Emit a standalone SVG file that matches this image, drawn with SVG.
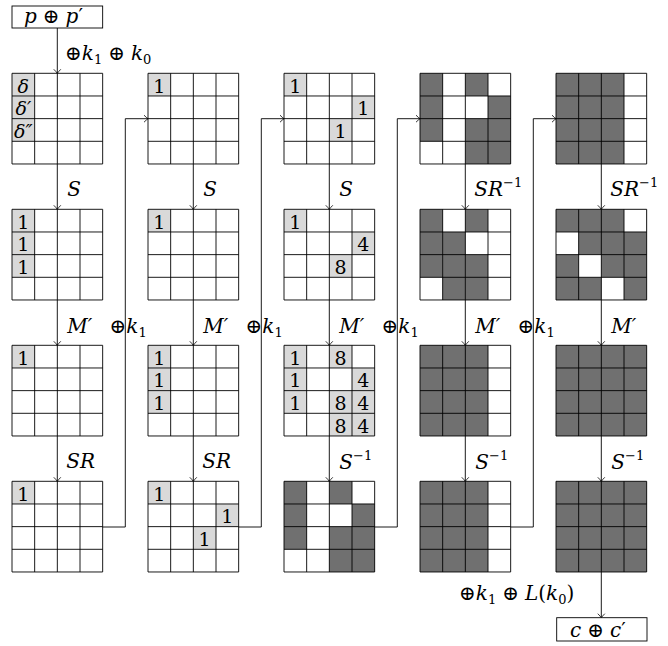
<svg xmlns="http://www.w3.org/2000/svg" width="668" height="646" viewBox="0 0 668 646">
<style>
text{font-family:"DejaVu Serif",serif;font-size:20px;fill:#000}
.i{font-style:italic}
.sb{font-size:13px}
.c{text-anchor:middle}
.n{font-size:19px}
.lg{fill:#d9d9d9}
.dk{fill:#707070}
.gl{fill:none;stroke:#000;stroke-width:0.9}
.cn{fill:none;stroke:#000;stroke-width:0.9}
.bx{fill:#fff;stroke:#000;stroke-width:0.9}
</style>
<defs>
<path id="grid" class="gl" d="M0,0H90.67V90.67H0Z M22.67,0V90.67 M45.33,0V90.67 M68,0V90.67 M0,22.67H90.67 M0,45.33H90.67 M0,68H90.67"/>
<marker id="ar" viewBox="-5 -5 6 10" refX="0" refY="0" markerWidth="6" markerHeight="10" markerUnits="userSpaceOnUse" orient="auto">
<path d="M-4,-3.5 Q-1.5,-1 0,0 Q-1.5,1 -4,3.5" fill="none" stroke="#000" stroke-width="0.8"/>
</marker>
</defs>
<rect width="668" height="646" fill="#fff"/>

<g id="connectors">
<path class="cn" d="M57.3,28V73.3" marker-end="url(#ar)"/>
<path class="cn" d="M57.3,164V209.3" marker-end="url(#ar)"/>
<path class="cn" d="M57.3,300V345.3" marker-end="url(#ar)"/>
<path class="cn" d="M57.3,436V481.3" marker-end="url(#ar)"/>
<path class="cn" d="M193.3,164V209.3" marker-end="url(#ar)"/>
<path class="cn" d="M193.3,300V345.3" marker-end="url(#ar)"/>
<path class="cn" d="M193.3,436V481.3" marker-end="url(#ar)"/>
<path class="cn" d="M329.3,164V209.3" marker-end="url(#ar)"/>
<path class="cn" d="M329.3,300V345.3" marker-end="url(#ar)"/>
<path class="cn" d="M329.3,436V481.3" marker-end="url(#ar)"/>
<path class="cn" d="M465.3,164V209.3" marker-end="url(#ar)"/>
<path class="cn" d="M465.3,300V345.3" marker-end="url(#ar)"/>
<path class="cn" d="M465.3,436V481.3" marker-end="url(#ar)"/>
<path class="cn" d="M601.3,164V209.3" marker-end="url(#ar)"/>
<path class="cn" d="M601.3,300V345.3" marker-end="url(#ar)"/>
<path class="cn" d="M601.3,436V481.3" marker-end="url(#ar)"/>
<path class="cn" d="M601.3,572V617.7" marker-end="url(#ar)"/>
<path class="cn" d="M102.67,527H125.3V118.7H148" marker-end="url(#ar)"/>
<path class="cn" d="M238.67,527H261.3V118.7H284" marker-end="url(#ar)"/>
<path class="cn" d="M374.67,527H397.3V118.7H420" marker-end="url(#ar)"/>
<path class="cn" d="M510.67,527H533.3V118.7H556" marker-end="url(#ar)"/>
</g>

<g id="labels">
<text x="65" y="60">⊕<tspan class="i">k</tspan><tspan class="sb" dy="4">1</tspan><tspan dy="-4" dx="6">⊕</tspan><tspan class="i" dx="6">k</tspan><tspan class="sb" dy="4">0</tspan></text>
<text class="i" x="67.3" y="196">S</text>
<text class="i" x="203.3" y="196">S</text>
<text class="i" x="339.3" y="196">S</text>
<text class="i" x="474.3" y="196">SR<tspan class="sb" font-style="normal" dy="-9">−1</tspan></text>
<text class="i" x="610.3" y="196">SR<tspan class="sb" font-style="normal" dy="-9">−1</tspan></text>
<text class="i" x="67.3" y="333">M′</text>
<text class="i" x="203.3" y="333">M′</text>
<text class="i" x="339.3" y="333">M′</text>
<text class="i" x="475.3" y="333">M′</text>
<text class="i" x="611.3" y="333">M′</text>
<text x="109.5" y="333">⊕<tspan class="i">k</tspan><tspan class="sb" dy="4">1</tspan></text>
<text x="245.5" y="333">⊕<tspan class="i">k</tspan><tspan class="sb" dy="4">1</tspan></text>
<text x="381.5" y="333">⊕<tspan class="i">k</tspan><tspan class="sb" dy="4">1</tspan></text>
<text x="517.5" y="333">⊕<tspan class="i">k</tspan><tspan class="sb" dy="4">1</tspan></text>
<text class="i" x="66.3" y="468">SR</text>
<text class="i" x="202.3" y="468">SR</text>
<text class="i" x="339.3" y="469">S<tspan class="sb" font-style="normal" dy="-9">−1</tspan></text>
<text class="i" x="475.3" y="469">S<tspan class="sb" font-style="normal" dy="-9">−1</tspan></text>
<text class="i" x="611.3" y="469">S<tspan class="sb" font-style="normal" dy="-9">−1</tspan></text>
<text x="459" y="600">⊕<tspan class="i">k</tspan><tspan class="sb" dy="4">1</tspan><tspan dy="-4" dx="6">⊕</tspan><tspan class="i" dx="6">L</tspan>(<tspan class="i">k</tspan><tspan class="sb" dy="4">0</tspan><tspan dy="-4">)</tspan></text>
</g>

<g id="in-box">
<rect class="bx" x="12" y="6" width="90.67" height="22"/>
<text x="24" y="23"><tspan class="i">p</tspan><tspan dx="6">⊕</tspan><tspan class="i" dx="6">p</tspan>′</text>
</g>
<g id="out-box">
<rect class="bx" x="556.7" y="617.7" width="90.3" height="23.3"/>
<text x="570" y="636.5"><tspan class="i">c</tspan><tspan dx="6">⊕</tspan><tspan class="i" dx="6">c</tspan>′</text>
</g>

<g id="n11" transform="translate(12,73.3)">
<rect class="lg" x="0" y="0" width="22.67" height="68"/>
<use href="#grid"/>
<text class="c i n" x="11.33" y="19.5">δ</text>
<text class="c i n" x="11.33" y="42.2">δ′</text>
<text class="c i n" x="11.33" y="64.8">δ″</text>
</g>
<g id="n12" transform="translate(12,209.3)">
<rect class="lg" x="0" y="0" width="22.67" height="68"/>
<use href="#grid"/>
<text class="c n" x="11.33" y="19.5">1</text>
<text class="c n" x="11.33" y="42.2">1</text>
<text class="c n" x="11.33" y="64.8">1</text>
</g>
<g id="n13" transform="translate(12,345.3)">
<rect class="lg" x="0" y="0" width="22.67" height="22.67"/>
<use href="#grid"/>
<text class="c n" x="11.33" y="19.5">1</text>
</g>
<g id="n14" transform="translate(12,481.3)">
<rect class="lg" x="0" y="0" width="22.67" height="22.67"/>
<use href="#grid"/>
<text class="c n" x="11.33" y="19.5">1</text>
</g>

<g id="n21" transform="translate(148,73.3)">
<rect class="lg" x="0" y="0" width="22.67" height="22.67"/>
<use href="#grid"/>
<text class="c n" x="11.33" y="19.5">1</text>
</g>
<g id="n22" transform="translate(148,209.3)">
<rect class="lg" x="0" y="0" width="22.67" height="22.67"/>
<use href="#grid"/>
<text class="c n" x="11.33" y="19.5">1</text>
</g>
<g id="n23" transform="translate(148,345.3)">
<rect class="lg" x="0" y="0" width="22.67" height="68"/>
<use href="#grid"/>
<text class="c n" x="11.33" y="19.5">1</text>
<text class="c n" x="11.33" y="42.2">1</text>
<text class="c n" x="11.33" y="64.8">1</text>
</g>
<g id="n24" transform="translate(148,481.3)">
<rect class="lg" x="0" y="0" width="22.67" height="22.67"/>
<rect class="lg" x="68" y="22.67" width="22.67" height="22.67"/>
<rect class="lg" x="45.33" y="45.33" width="22.67" height="22.67"/>
<use href="#grid"/>
<text class="c n" x="11.33" y="19.5">1</text>
<text class="c n" x="79.33" y="42.2">1</text>
<text class="c n" x="56.67" y="64.8">1</text>
</g>

<g id="n31" transform="translate(284,73.3)">
<rect class="lg" x="0" y="0" width="22.67" height="22.67"/>
<rect class="lg" x="68" y="22.67" width="22.67" height="22.67"/>
<rect class="lg" x="45.33" y="45.33" width="22.67" height="22.67"/>
<use href="#grid"/>
<text class="c n" x="11.33" y="19.5">1</text>
<text class="c n" x="79.33" y="42.2">1</text>
<text class="c n" x="56.67" y="64.8">1</text>
</g>
<g id="n32" transform="translate(284,209.3)">
<rect class="lg" x="0" y="0" width="22.67" height="22.67"/>
<rect class="lg" x="68" y="22.67" width="22.67" height="22.67"/>
<rect class="lg" x="45.33" y="45.33" width="22.67" height="22.67"/>
<use href="#grid"/>
<text class="c n" x="11.33" y="19.5">1</text>
<text class="c n" x="79.33" y="42.2">4</text>
<text class="c n" x="56.67" y="64.8">8</text>
</g>
<g id="n33" transform="translate(284,345.3)">
<rect class="lg" x="0" y="0" width="22.67" height="68"/>
<rect class="lg" x="45.33" y="0" width="22.67" height="22.67"/>
<rect class="lg" x="68" y="22.67" width="22.67" height="68"/>
<rect class="lg" x="45.33" y="45.33" width="22.67" height="45.33"/>
<use href="#grid"/>
<text class="c n" x="11.33" y="19.5">1</text>
<text class="c n" x="56.67" y="19.5">8</text>
<text class="c n" x="11.33" y="42.2">1</text>
<text class="c n" x="79.33" y="42.2">4</text>
<text class="c n" x="11.33" y="64.8">1</text>
<text class="c n" x="56.67" y="64.8">8</text>
<text class="c n" x="79.33" y="64.8">4</text>
<text class="c n" x="56.67" y="87.5">8</text>
<text class="c n" x="79.33" y="87.5">4</text>
</g>
<g id="n34" transform="translate(284,481.3)">
<rect class="dk" x="0" y="0" width="22.67" height="68"/>
<rect class="dk" x="45.33" y="0" width="22.67" height="22.67"/>
<rect class="dk" x="68" y="22.67" width="22.67" height="68"/>
<rect class="dk" x="45.33" y="45.33" width="22.67" height="45.33"/>
<use href="#grid"/>
</g>

<g id="n41" transform="translate(420,73.3)">
<rect class="dk" x="0" y="0" width="22.67" height="68"/>
<rect class="dk" x="45.33" y="0" width="22.67" height="22.67"/>
<rect class="dk" x="68" y="22.67" width="22.67" height="68"/>
<rect class="dk" x="45.33" y="45.33" width="22.67" height="45.33"/>
<use href="#grid"/>
</g>
<g id="n42" transform="translate(420,209.3)">
<rect class="dk" x="0" y="0" width="22.67" height="68"/>
<rect class="dk" x="45.33" y="0" width="22.67" height="22.67"/>
<rect class="dk" x="22.67" y="22.67" width="22.67" height="68"/>
<rect class="dk" x="45.33" y="45.33" width="22.67" height="45.33"/>
<use href="#grid"/>
</g>
<g id="n43" transform="translate(420,345.3)">
<rect class="dk" x="0" y="0" width="68" height="90.67"/>
<use href="#grid"/>
</g>
<g id="n44" transform="translate(420,481.3)">
<rect class="dk" x="0" y="0" width="68" height="90.67"/>
<use href="#grid"/>
</g>

<g id="n51" transform="translate(556,73.3)">
<rect class="dk" x="0" y="0" width="68" height="90.67"/>
<use href="#grid"/>
</g>
<g id="n52" transform="translate(556,209.3)">
<rect class="dk" x="0" y="0" width="90.67" height="90.67"/>
<rect fill="#fff" x="68" y="0" width="22.67" height="22.67"/>
<rect fill="#fff" x="0" y="22.67" width="22.67" height="22.67"/>
<rect fill="#fff" x="22.67" y="45.33" width="22.67" height="22.67"/>
<rect fill="#fff" x="45.33" y="68" width="22.67" height="22.67"/>
<use href="#grid"/>
</g>
<g id="n53" transform="translate(556,345.3)">
<rect class="dk" x="0" y="0" width="90.67" height="90.67"/>
<use href="#grid"/>
</g>
<g id="n54" transform="translate(556,481.3)">
<rect class="dk" x="0" y="0" width="90.67" height="90.67"/>
<use href="#grid"/>
</g>
</svg>
